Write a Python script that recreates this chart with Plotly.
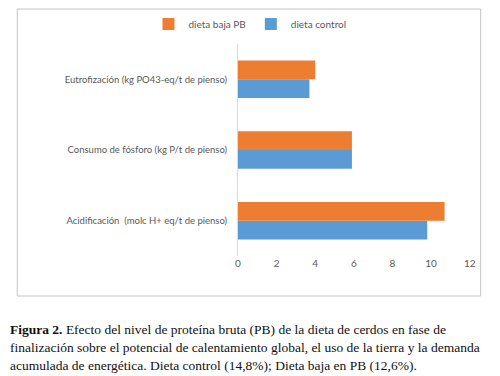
import plotly.graph_objects as go

categories = ["Acidificación  (molc H+ eq/t de pienso)",
              "Consumo de fósforo (kg P/t de pienso)",
              "Eutrofización (kg PO43-eq/t de pienso)"]
control = [9.8, 5.9, 3.7]
baja_pb = [10.7, 5.9, 4.0]
series_names = ["dieta control", "dieta baja PB"]
colors = ["#5B9BD5", "#ED7D31"]
x_ticks = [0, 2, 4, 6, 8, 10, 12]
x_tick_text = ["0", "2", "4", "6", "8", "10", "12"]
x_max = 13

caption_lines = [
    "<b>Figura 2.</b> Efecto del nivel de proteína bruta (PB) de la dieta de cerdos en fase de",
    "finalización sobre el potencial de calentamiento global, el uso de la tierra y la demanda",
    "acumulada de energética. Dieta control (14,8%); Dieta baja en PB (12,6%).",
]

# page body has an 8px margin: work in window pixels, convert to figure pixels
OFF = 8
W, H = 492, 368
UNIT = 232 / 12                              # pixels per x unit in the reference
PL, PT, PB = 238, 44, 256                    # plot area in window pixels
PR = PL + x_max * UNIT
L, T = PL - OFF, PT - OFF
pw, ph = PR - PL, PB - PT
R, B = W - L - pw, H - T - ph

def px_x(x):
    return (x - PL) / pw

def px_y(y):
    return (PB - y) / ph

fig = go.Figure()
for name, vals, c in zip(series_names, [control, baja_pb], colors):
    fig.add_trace(go.Bar(y=categories, x=vals, name=name, orientation="h",
                         marker=dict(color=c, line=dict(width=0))))

fig.update_layout(
    width=W, height=H,
    margin=dict(l=L, r=R, t=T, b=B, autoexpand=False),
    paper_bgcolor="white", plot_bgcolor="white",
    barmode="group", bargap=0.47, bargroupgap=0,
    font=dict(family="Lato, Open Sans, sans-serif", size=10, color="#595959"),
    legend=dict(orientation="h", traceorder="reversed", x=px_x(250), xanchor="center",
                y=px_y(24), yanchor="middle", font=dict(size=10, color="#595959"),
                itemwidth=30, tracegroupgap=0, bgcolor="rgba(0,0,0,0)"),
    xaxis=dict(range=[0, x_max], tickmode="array", tickvals=x_ticks, ticktext=x_tick_text,
               showgrid=False, zeroline=False, showline=False, ticks="",
               automargin=False, ticklabeloverflow="allow",
               tickfont=dict(size=10, color="#595959")),
    yaxis=dict(showgrid=False, showline=True, linecolor="#d9d9d9", linewidth=1,
               ticks="", ticklabelstandoff=8, automargin=False,
               tickfont=dict(size=9.5, color="#595959")),
    showlegend=True,
)

bx0, bx1, by0, by1 = px_x(17), px_x(481), px_y(296), px_y(OFF + 1)
for (xa, ya, xb, yb) in [(bx0, by0, bx1, by0), (bx0, by1, bx1, by1),
                         (bx0, by0, bx0, by1), (bx1, by0, bx1, by1)]:
    fig.add_shape(type="line", xref="paper", yref="paper", x0=xa, y0=ya, x1=xb, y1=yb,
                  line=dict(color="#c4c4c4", width=1), layer="above")

for i, line in enumerate(caption_lines):
    fig.add_annotation(text=line, xref="paper", yref="paper",
                       x=px_x(OFF), y=px_y(329 + 18 * i), xanchor="left", yanchor="middle",
                       showarrow=False,
                       font=dict(family="Liberation Serif, Times New Roman, serif", size=13.5, color="#111111"))

fig.write_html("out.html", config={"displayModeBar": False})
